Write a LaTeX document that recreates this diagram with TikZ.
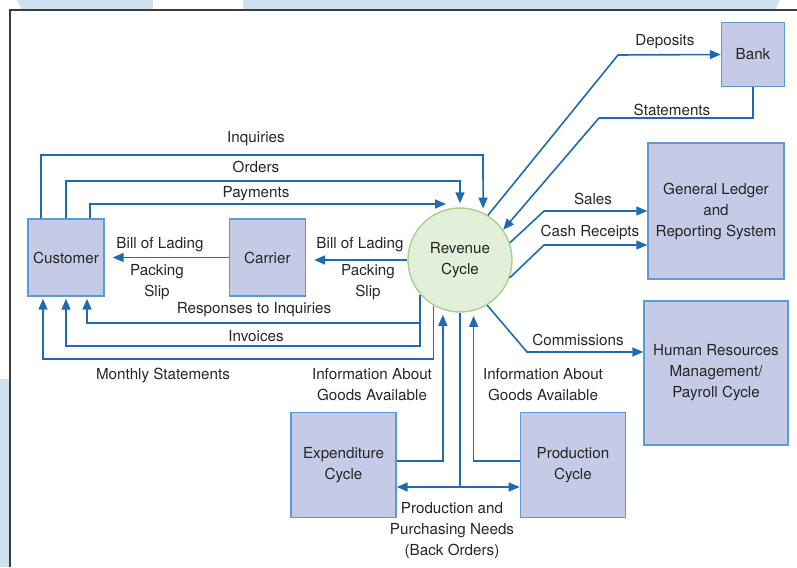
\documentclass[tikz,border=0pt]{standalone}
\usepackage{fontspec}
\setmainfont{TeX Gyre Heros}
\usetikzlibrary{arrows.meta, positioning, calc}

\definecolor{flowblue}{HTML}{1F6AB4}
\definecolor{boxedge}{HTML}{5B9BD5}
\definecolor{boxfill}{HTML}{C5CAE6}
\definecolor{procfill}{HTML}{E2EFD9}
\definecolor{procedge}{HTML}{A9D18E}
\definecolor{pagetint}{HTML}{CFE0EF}
\definecolor{inkgray}{HTML}{262626}

\begin{document}
\begin{tikzpicture}
            [x=1pt, y=-1pt, >={Triangle[length=11pt,width=9pt]}, semithick,
            flow/.style={->, draw=flowblue, line width=1.6pt},
            entity/.style={rectangle, align=center, draw=boxedge, fill=boxfill, line width=1.4pt, inner sep=0pt, text=inkgray},
            process/.style={circle, align=center, draw=procedge, fill=procfill, line width=1.4pt, minimum size=104pt, inner sep=0pt, text=inkgray},
            lbl/.style={align=center, text=inkgray, inner sep=1pt},
            every node/.append style={font=\fontsize{15.2}{21}\selectfont}]

            \useasboundingbox (0,0) rectangle (797,567);
            % page background
            \fill[pagetint] (17,0) -- (22,10) -- (153,10) -- (153,0) -- cycle;
            \fill[pagetint] (243,0) -- (243,10) -- (775,10) -- (780,0) -- cycle;
            \fill[pagetint] (0,379) rectangle (10,567);
            \draw[inkgray!90, line width=2pt] (10,567) -- (10,10) -- (797,10);

            \node[entity, minimum width=76pt, minimum height=77pt] (customer) at (66,257.5) {Customer};
            \node[entity, minimum width=76pt, minimum height=77pt] (carrier) [right=124pt of customer] {Carrier};
            \node[process] (revenue) at (460,260) {Revenue\\Cycle};
            \node[entity, minimum width=63pt, minimum height=64pt] (bank) at (753,54.5) {Bank};
            \node[entity, minimum width=136pt, minimum height=136pt] (ledger) at (716,211) {General Ledger\\and\\Reporting System};
            \node[entity, minimum width=144pt, minimum height=144pt] (payroll) at (716,373) {Human Resources\\Management/\\Payroll Cycle};
            \node[entity, minimum width=105pt, minimum height=105pt] (expend) at (343.5,465) {Expenditure\\Cycle};
            \node[entity, minimum width=105pt, minimum height=105pt] (product) [right=123pt of expend] {Production\\Cycle};

            \coordinate (payin) at (446,204);

            % customer side
            \draw[flow, shorten >=4pt] (customer.north -| 41,0) |- (483,155) -- (revenue.64);
            \draw[flow, shorten >=4pt] (customer.north) |- (revenue.north |- 0,181) -- (revenue.north);
            \draw[flow] (customer.north -| 90,0) |- (payin);
            \draw[flow, shorten >=8pt] (revenue.west) -- (revenue.west -| carrier.east);
            \draw[flow, shorten >=8pt] (carrier.west) -- (customer.east);
            \draw[flow, shorten >=2pt] (revenue.221) |- (87,323) -- (customer.south -| 87,0);
            \draw[flow, shorten >=2pt] (revenue.221) |- (customer.south |- 0,346) -- (customer.south);
            \draw[flow, shorten >=2pt] (revenue.240) |- (43,359) -- (customer.south -| 43,0);

            % bank, ledger, payroll
            \draw[flow] (revenue.58) -- (618,55) -- (bank.west);
            \draw[flow] (bank.south) |- (599,118) -- (revenue.35);
            \draw[flow] (revenue.19) -- (544,211) -- (ledger.west);
            \draw[flow] (revenue.-20) -- (544,245) -- (ledger.west |- 0,245);
            \draw[flow] (revenue.-59) -- (527,352) -- (payroll.west |- 0,352);

            % expenditure and production
            \draw[flow, shorten >=5pt] (expend.east |- 0,461) -| (revenue.251);
            \draw[flow, shorten >=5pt] (product.west |- 0,461) -| (revenue.285);
            \draw[flow, -] (revenue.south) -- (revenue.south |- 0,487);
            \draw[flow, <->] (expend.east |- 0,487) -- (product.west |- 0,487);

            % labels
            \node[lbl] (inqlbl) at (256,139) {Inquiries};
            \node[lbl] (ordlbl) at (256,167) {Orders};
            \node[lbl] (paylbl) at (256,194) {Payments};
            \node[lbl] (bolcust) at (160,245) {Bill of Lading};
            \node[lbl] (slipcust) at (157,282) {Packing\\Slip};
            \node[lbl] (bolcarr) at (360,245) {Bill of Lading};
            \node[lbl] (slipcarr) at (368,282) {Packing\\Slip};
            \node[lbl] (resplbl) at (254,310) {Responses to Inquiries};
            \node[lbl] (invlbl) at (256,336) {Invoices};
            \node[lbl] (monlbl) at (163,375) {Monthly Statements};
            \node[lbl] (deplbl) at (665,42) {Deposits};
            \node[lbl] (stmlbl) at (672,110) {Statements};
            \node[lbl] (salelbl) at (593,199) {Sales};
            \node[lbl] (cashlbl) at (590,232) {Cash Receipts};
            \node[lbl] (comlbl) at (578,340) {Commissions};
            \node[lbl] (infoexp) at (372,385) {Information About\\Goods Available};
            \node[lbl] (infoprod) at (543,385) {Information About\\Goods Available};
            \node[lbl] (needlbl) at (452,531) {Production and\\Purchasing Needs\\(Back Orders)};
        \end{tikzpicture}
\end{document}
